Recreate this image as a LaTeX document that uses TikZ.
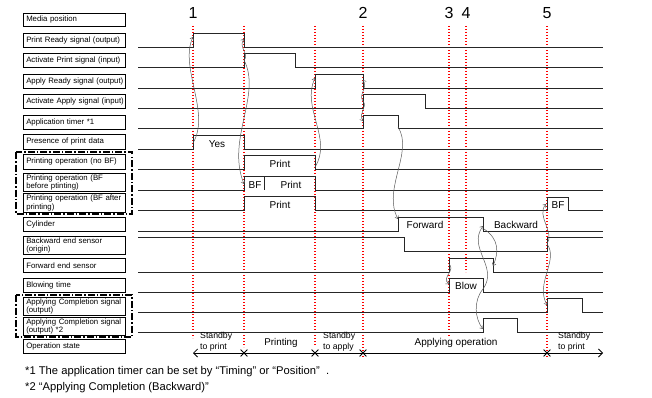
\documentclass[tikz,border=0pt]{standalone}
\usepackage{fontspec}
\setmainfont{Liberation Sans}
\usetikzlibrary{positioning}
\usetikzlibrary{shapes.misc, arrows.meta}
\hyphenpenalty=10000

\begin{document}
\begin{tikzpicture}[x=1pt,y=-1pt,
  lbl/.style = {draw, line width=0.9pt, anchor=north west, text width=100pt, minimum width=102pt, inner xsep=1pt, inner ysep=0pt, align=left, font=\fontsize{7.8}{8.7}\selectfont, execute at begin node={\leftskip=1.8pt}},
  sig/.style = {line width=0.9pt, black!85},
  tline/.style = {red, line width=1.1pt, dash pattern=on 1.2pt off 1.8pt},
  cause/.style = {-{Straight Barb[length=2.5pt,width=4pt]}, black!65, line width=0.5pt},
  grp/.style = {line width=1.3pt, dash pattern=on 7pt off 2pt on 1.5pt off 2pt},
  xpt/.style = {cross out, draw, line width=0.8pt, minimum size=6pt, inner sep=0pt},
  wtxt/.style = {font=\fontsize{10}{12}\selectfont, inner sep=0pt},
  stxt/.style = {font=\fontsize{8.7}{11}\selectfont, inner sep=0pt, anchor=west, align=left},
  num/.style = {font=\fontsize{16}{16}\selectfont, inner sep=0pt}]

\useasboundingbox (0,0) rectangle (652,398);

\node[lbl, minimum height=13pt] (media) at (23,13) {Media position};
\node[lbl, minimum height=14pt] (prdy) at (23,33) {Print Ready signal (output)};
\node[lbl, minimum height=14pt] (actp) at (23,53) {Activate Print signal (input)};
\node[lbl, minimum height=14pt] (ardy) at (23,74) {Apply Ready signal (output)};
\node[lbl, minimum height=14pt] (acta) at (23,94) {Activate Apply signal (input)};
\node[lbl, minimum height=14pt] (atim) at (23,115) {Application timer *1};
\node[lbl, minimum height=15pt] (pres) at (23,134) {Presence of print data};
\node[lbl, minimum height=15pt] (pnob) at (23,154) {Printing operation (no BF)};
\node[lbl, minimum height=18pt] (pbfb) at (23,173) {Printing operation (BF\\before ptinting)};
\node[lbl, minimum height=19pt] (pbfa) at (23,193) {Printing operation (BF after\\printing)};
\node[lbl, minimum height=14pt] (cyl) at (23,217) {Cylinder};
\node[lbl, minimum height=18pt] (bes) at (23,236) {Backward end sensor\\(origin)};
\node[lbl, minimum height=14pt] (fes) at (23,258) {Forward end sensor};
\node[lbl, minimum height=14pt] (blw) at (23,278) {Blowing time};
\node[lbl, minimum height=18pt] (acs) at (23,297) {Applying Completion signal\\(output)};
\node[lbl, minimum height=18pt] (acsb) at (23,317) {Applying Completion signal\\(output) *2};
\node[lbl, minimum height=14pt] (ops) at (23,339) {Operation state};

\draw[grp] (16,152) rectangle (132,214);
\draw[grp] (16,295) rectangle (132,337);

\foreach \x/\n in {193/1,363/2,449/3,466/4,547/5}
  \node[num] (t\n) at (\x,13) {\n};
\foreach \x/\e in {193/338,244/347,315/345,363/358,449/337,466/272,547/358}
  \draw[tline] (\x,26) -- (\x,\e);

\draw[sig] (138,47) -- (193,47) -- (193,33) -- (244,33) -- (244,47) -- (603,47);
\draw[sig] (138,67) -- (244,67) -- (244,53) -- (295,53) -- (295,67) -- (603,67);
\draw[sig] (138,88) -- (315,88) -- (315,74) -- (363,74) -- (363,88) -- (603,88);
\draw[sig] (138,108) -- (363,108) -- (363,94) -- (425,94) -- (425,108) -- (603,108);
\draw[sig] (138,128) -- (363,128) -- (363,115) -- (398,115) -- (398,128) -- (603,128);
\draw[sig] (138,149) -- (193,149) -- (193,135) -- (244,135) -- (244,149) -- (603,149);
\draw[sig] (138,169) -- (244,169) -- (244,155) -- (315,155) -- (315,169) -- (603,169);
\draw[sig] (138,190) -- (244,190) -- (244,176) -- (315,176) -- (315,190) -- (603,190);
\draw[sig] (264,176) -- (264,190);
\draw[sig] (138,210) -- (244,210) -- (244,196) -- (315,196) -- (315,210) -- (547,210)
  -- (547,197) -- (568,197) -- (568,210) -- (603,210);
\draw[sig] (138,231) -- (398,231) -- (398,217) -- (483,217) -- (483,231) -- (603,231);
\draw[sig] (138,237) -- (404,237) -- (404,251) -- (547,251) -- (547,237) -- (603,237);
\draw[sig] (138,272) -- (449,272) -- (449,258) -- (493,258) -- (493,272) -- (603,272);
\draw[sig] (138,292) -- (449,292) -- (449,278) -- (483,278) -- (483,292) -- (603,292);
\draw[sig] (138,312) -- (547,312) -- (547,298) -- (582,298) -- (582,312) -- (603,312);
\draw[sig] (138,332) -- (483,332) -- (483,318) -- (517,318) -- (517,332) -- (603,332);

\node[wtxt] (yes) at (217,144) {Yes};
\node[wtxt] (pr1) at (280,164) {Print};
\node[wtxt] (bf1) at (255,185) {BF};
\node[wtxt] (pr2) at (291,185) {Print};
\node[wtxt] (pr3) at (280,205) {Print};
\node[wtxt] (bf2) at (558,205) {BF};
\node[wtxt] (fwd) at (425,225) {Forward};
\node[wtxt] (bwd) at (516,225) {Backward};
\node[wtxt] (blo) at (466,286) {Blow};

\coordinate (pdup) at (193,143);
\coordinate (prup) at (193,37);
\coordinate (apup) at (244,60);
\coordinate (prdn) at (244,39);
\coordinate (bfup) at (244,184);
\coordinate (pndn) at (315,167);
\coordinate (arup) at (315,78);
\coordinate (aaup) at (363,101);
\coordinate (ardn) at (363,80);
\coordinate (atup) at (363,121);
\coordinate (atdn) at (398,127);
\coordinate (cyup) at (398,219);
\coordinate (feup) at (449,264);
\coordinate (blup) at (449,284);
\coordinate (bldn) at (483,289);
\coordinate (cydn) at (483,226);
\coordinate (cydx) at (484,229);
\coordinate (fedn) at (493,266);
\coordinate (a2up) at (483,329);
\coordinate (beup) at (547,244);
\coordinate (bfau) at (546,204);
\coordinate (acup) at (547,305);

\draw[cause] (pdup) .. controls +(18,-30) and +(-14,30) .. (prup);
\draw[cause] (apup) .. controls +(6,-5) and +(-6,8) .. (prdn);
\draw[cause] (apup) .. controls +(18,35) and +(-18,-45) .. (bfup);
\draw[cause] (pndn) .. controls +(18,-28) and +(-14,30) .. (arup);
\draw[cause] (aaup) .. controls +(-5,-6) and +(5,8) .. (ardn);
\draw[cause] (aaup) .. controls +(5,6) and +(-5,-8) .. (atup);
\draw[cause] (atdn) .. controls +(16,25) and +(-16,-30) .. (cyup);
\draw[cause] (feup) .. controls +(7,6) and +(-8,-6) .. (blup);
\draw[cause] (bldn) .. controls +(16,-22) and +(-16,22) .. (cydn);
\draw[cause] (cydx) .. controls +(15,10) and +(6,-14) .. (fedn);
\draw[cause] (bldn) .. controls +(-10,12) and +(-8,-10) .. (a2up);
\draw[cause] (beup) .. controls +(8,-12) and +(-10,12) .. (bfau);
\draw[cause] (beup) .. controls +(12,16) and +(-12,-22) .. (acup);

\coordinate (os0) at (193,353);
\coordinate (os1) at (603,353);
\draw[{Straight Barb[length=4pt,width=8pt]}-{Straight Barb[length=4pt,width=8pt]}, line width=0.8pt] (os0) -- (os1);
\foreach \x in {244,315,363,547}
  \node[xpt] at (\x,353) {};

\node[stxt] (sb1) at (200,342) {Standby\\to print};
\node[wtxt, font=\fontsize{9.8}{12}\selectfont] (prt) at (281,343) {Printing};
\node[stxt] (sb2) at (323,342) {Standby\\to apply};
\node[wtxt] (apl) at (456,343) {Applying operation};
\node[stxt] (sb3) at (558,342) {Standby\\to print};

\node[anchor=base west, inner sep=0pt, font=\fontsize{11.2}{13}\selectfont] (fn1) at (25,374)
  {*1 The application timer can be set by “Timing” or “Position” \ .};
\node[anchor=base west, inner sep=0pt, font=\fontsize{11.2}{13}\selectfont] (fn2) at (25,390)
  {*2 “Applying Completion (Backward)”};
\end{tikzpicture}
\end{document}
